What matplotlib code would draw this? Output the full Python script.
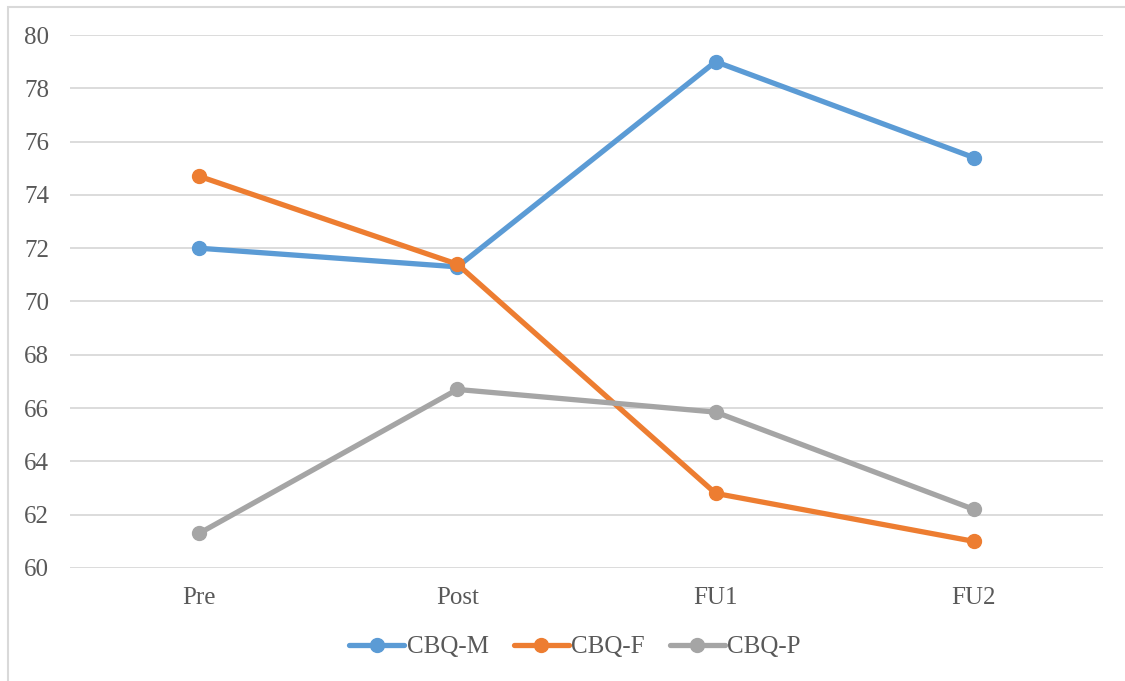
import matplotlib.pyplot as plt
from matplotlib.patches import Rectangle

plt.rcParams['font.family'] = ['Liberation Serif', 'DejaVu Serif']

# scores per time point
stages = ['Pre', 'Post', 'FU1', 'FU2']
cbq_m = [72.0, 71.3, 79.0, 75.4]
cbq_f = [74.7, 71.4, 62.8, 61.0]
cbq_p = [61.3, 66.7, 65.85, 62.2]

series = [('CBQ-M', cbq_m, '#5B9BD5'),
          ('CBQ-F', cbq_f, '#ED7D31'),
          ('CBQ-P', cbq_p, '#A5A5A5')]

txt = '#595959'

fig = plt.figure(figsize=(11.25, 6.81), dpi=100)
ax = fig.add_axes([70/1125, 1 - 568/681, 1033/1125, 533/681])

x = list(range(len(stages)))
for name, vals, col in series:
    ax.plot(x, vals, color=col, lw=3.8, marker='o', ms=10,
            solid_capstyle='round', label=name)

ax.set_xlim(-0.5, len(stages) - 0.5)
ax.set_ylim(60, 80)
ax.set_yticks(range(60, 81, 2))
ax.set_xticks(x)
ax.set_xticklabels(stages)
ax.grid(axis='y', color='#D9D9D9', lw=1.3)
ax.set_axisbelow(True)
for s in ax.spines.values():
    s.set_visible(False)
ax.tick_params(length=0, labelsize=18, colors=txt)
ax.tick_params(axis='y', pad=15)
ax.tick_params(axis='x', pad=14)

leg = fig.legend(loc='center', bbox_to_anchor=(575/1125, 1 - 647/681), ncol=3,
                 frameon=False, fontsize=18, handlelength=2.2, handletextpad=0.1,
                 columnspacing=1.0)
for t in leg.get_texts():
    t.set_color(txt)

# outer frame (runs off the right and bottom edges)
fig.patches.append(Rectangle((8/1125, -0.1), 1.2, 1 - 7/681 + 0.1,
                             transform=fig.transFigure, fill=False,
                             ec='#D9D9D9', lw=1.5))

fig.savefig('out.png', dpi=100)
